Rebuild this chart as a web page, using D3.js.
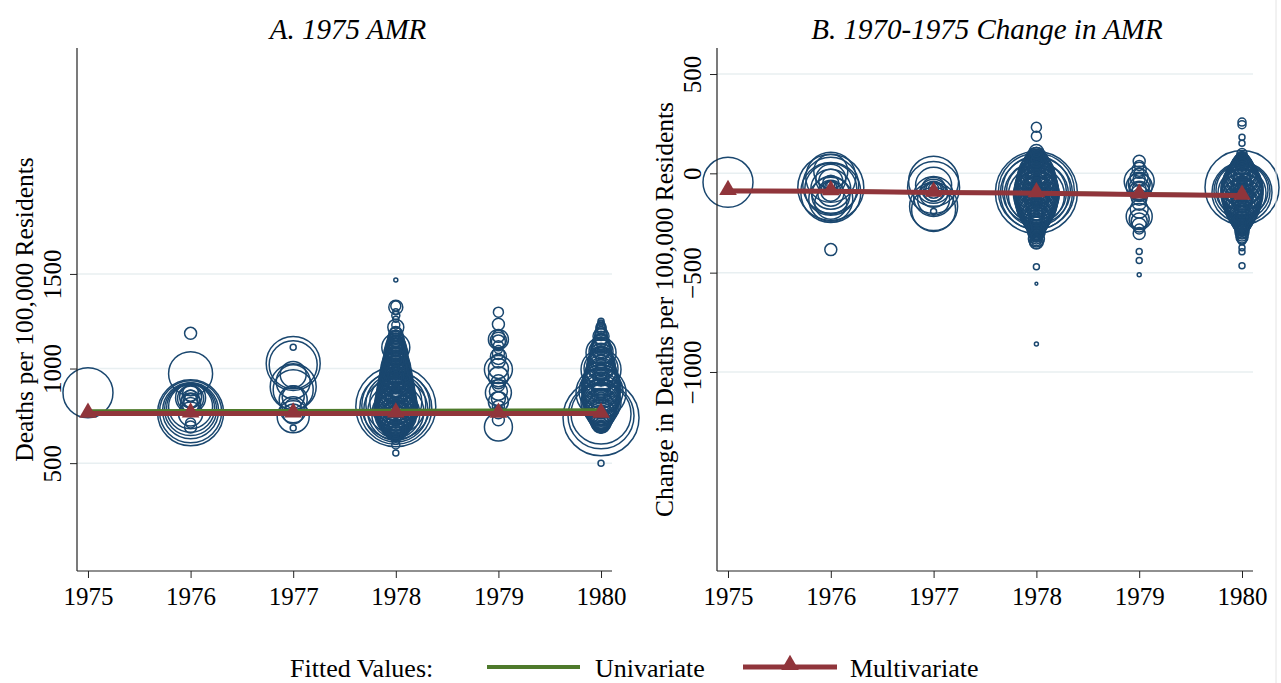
<!DOCTYPE html>
<html><head><meta charset="utf-8">
<script src="https://cdn.jsdelivr.net/npm/d3@7"></script>
<style>
body{margin:0;background:#fff;}
svg{display:block;}
text{font-family:"Liberation Serif","Times New Roman",serif;fill:#000;}
</style>
</head><body>
<svg id="chart" width="1281" height="683"></svg>
<script>
// ---------- DATA ----------
const years = [1975, 1976, 1977, 1978, 1979, 1980];
const panelTitles = ["A. 1975 AMR", "B. 1970-1975 Change in AMR"];
const yTitles = ["Deaths per 100,000 Residents", "Change in Deaths per 100,000 Residents"];
const yTicksA = [500, 1000, 1500];
const yTicksB = [-1000, -500, 0, 500];
const yDomainA = [-70, 2694];
const yDomainB = [-2002, 631];
const legendLabels = ["Fitted Values:", "Univariate", "Multivariate"];

// [value, population weight] per observation, grouped by year
const amrA1975 = [[872,625]];
const amrA1976 = [[1186,36],[973,484],[766,1089],[771,961],[777,784],[783,676],[790,576],[798,484],[846,225],[842,169],[850,121],[838,81],[830,49],[855,36],[818,100],[805,64],[691,36],[712,25],[760,144],[870,64]];
const amrA1977 = [[1027,729],[1020,576],[1112,9],[968,169],[904,529],[888,400],[930,289],[850,121],[835,196],[800,64],[782,169],[760,100],[745,256],[686,9]];
const amrA1978 = [[798,1600],[790,1296],[805,1156],[780,1024],[812,900],[770,784],[825,676],[760,576],
 [1468,4],[1324,49],[1330,25],[1300,9],[1280,16],[1260,9],[1230,16],[1218,64],[1195,25],[1180,49],[1160,64],[1150,16],[1140,81],[1130,25],[1120,100],[1112,196],[1110,36],[1100,121],[1090,25],[1080,144],[1070,49],[1060,100],[1050,36],[1040,169],[1030,64],[1020,196],[1010,49],[1010,9],[1000,225],[990,81],[990,16],[985,144],[970,256],[960,64],[955,196],[950,36],[940,289],[930,100],[925,225],[920,49],[910,324],[900,81],[900,16],[895,256],[880,361],[880,36],[870,121],[865,289],[860,25],[850,400],[840,100],[840,64],[835,324],[820,441],[820,16],[810,144],[805,361],[800,81],[790,484],[780,121],[780,36],[775,400],[760,441],[750,100],[745,361],[740,25],[730,324],[720,81],[715,256],[700,196],[690,64],[685,144],[670,100],[660,36],[640,25],[620,16],[596,16],[553,9],
 [1190,36],[1170,25],[1165,49],[1145,36],[1135,64],[1125,49],[1115,81],[1105,64],[1095,100],[1085,81],[1075,121],[1065,81],[1055,144],[1045,100],[1035,121],[1025,144],[1015,169],[1005,121],[995,196],[980,169],[975,225],[965,196],[945,225],[935,256],[915,289],[905,256],[890,324],[885,289],[875,324],[860,361],[855,324],[845,361],[830,400],[825,361],[815,400],[800,441],[795,400],[785,441],[770,361],[765,400],[755,324],[740,289],[735,256],[725,225],[710,196],[705,144],[695,121],[680,100],[675,64],[665,49],[650,36],[1060,16],[1000,9],[950,16],[900,9],[850,16],[800,9],[760,16],[720,9]];
const amrA1979 = [[1298,25],[1234,36],[1170,36],[1154,100],[1150,64],[1140,49],[1120,25],[1100,16],[1080,36],[1064,64],[1040,49],[1000,100],[995,196],[957,100],[930,49],[910,36],[880,81],[872,169],[840,49],[824,100],[800,36],[780,25],[766,36],[729,36],[691,196]];
const amrA1980 = [[740,1444],[750,1089],[760,900],[872,625],[880,484],[900,400],[995,400],[1000,289],[960,256],[940,324],[920,361],[860,289],[840,361],[820,400],[800,324],[780,256],[760,196],[740,144],[720,100],[1085,225],[1090,144],[1060,121],[1040,169],[1020,196],[1250,9],[1218,25],[1200,16],[1180,36],[1170,64],[1150,49],[1130,81],[1110,100],[1000,36],[980,49],[950,64],[910,81],[890,64],[870,100],[850,49],[830,121],[790,81],[713,64],[700,49],[690,25],[680,16],[500,9],
 [1240,9],[1230,16],[1210,25],[1190,36],[1160,49],[1140,64],[1120,81],[1100,100],[1075,121],[1050,144],[1030,169],[1010,196],[990,225],[970,256],[945,289],[925,324],[905,361],[885,324],[865,361],[845,324],[825,289],[805,256],[785,225],[770,196],[750,169],[730,121],[715,100],[705,81],[695,36],[1050,25],[950,25],[850,25],[780,16]];

const chgB1975 = [[-45,625]];
const chgB1976 = [[-71,1089],[-96,900],[-60,784],[-80,676],[-20,625],[-131,484],[-80,400],[-110,361],[-150,256],[-30,225],[-100,169],[-40,144],[10,289],[-90,100],[-50,64],[-70,36],[-60,16],[-384,36]];
const chgB1977 = [[-40,625],[-71,676],[-167,576],[-182,484],[-116,400],[-60,324],[-130,256],[-100,196],[-80,144],[-90,100],[-85,64],[-75,25],[-80,9],[-192,9]];
const chgB1978 = [[-96,1681],[-90,1444],[-100,1296],[-85,1156],[-105,1024],[-95,900],[-110,784],
 [232,25],[187,25],[110,49],[100,36],[90,64],[80,100],[70,25],[60,144],[50,49],[40,196],[30,64],[20,256],[10,81],[0,324],[-10,100],[-20,361],[-30,121],[-40,400],[-45,25],[-50,144],[-60,441],[-65,36],[-70,169],[-80,484],[-85,49],[-90,196],[-100,441],[-110,169],[-115,64],[-120,400],[-130,144],[-135,36],[-140,361],[-150,121],[-155,16],[-160,324],[-170,100],[-180,256],[-190,81],[-200,196],[-210,64],[-220,144],[-230,49],[-240,121],[-250,36],[-260,100],[-270,25],[-280,81],[-290,81],[-300,36],[-310,49],[-320,25],[-330,64],[-350,36],[-470,9],[-556,2],[-859,4],
 [95,25],[85,49],[75,64],[65,81],[55,100],[45,121],[35,144],[25,169],[15,196],[5,225],[-5,256],[-15,289],[-25,324],[-35,361],[-55,400],[-75,441],[-95,484],[-105,529],[-125,484],[-145,441],[-165,400],[-175,361],[-185,324],[-195,289],[-205,256],[-215,225],[-225,196],[-235,169],[-245,144],[-255,121],[-265,100],[-275,64],[-285,49],[-295,64],[-305,36],[-315,25],[-325,36],[-340,25],[-345,49],[-95,36],[-75,16],[-125,25],[-165,16],[-25,16],[5,9]];
const chgB1979 = [[61,36],[40,25],[20,49],[0,25],[-20,81],[-30,36],[-40,225],[-50,121],[-66,169],[-70,100],[-80,49],[-90,100],[-100,64],[-120,64],[-150,49],[-180,81],[-217,169],[-230,100],[-240,64],[-260,49],[-280,25],[-303,36],[-394,9],[-439,9],[-510,4]];
const chgB1980 = [[-71,1369],[-96,900],[-90,784],[-85,676],[-100,576],[258,16],[245,16],[182,9],[152,9],[100,25],[80,36],[60,64],[50,25],[40,100],[30,36],[20,144],[10,49],[0,196],[-10,64],[-20,256],[-30,81],[-40,324],[-50,100],[-55,25],[-60,400],[-70,121],[-75,49],[-80,441],[-90,144],[-95,64],[-100,400],[-110,121],[-115,36],[-120,361],[-130,100],[-140,324],[-150,81],[-160,256],[-170,64],[-180,196],[-190,49],[-200,144],[-210,36],[-220,100],[-230,25],[-240,81],[-250,16],[-260,64],[-280,49],[-310,36],[-330,25],[-374,9],[-395,9],[-465,9],
 [70,49],[55,81],[45,100],[35,121],[25,144],[15,169],[5,196],[-5,225],[-15,256],[-25,289],[-35,324],[-45,361],[-65,400],[-85,441],[-105,441],[-125,400],[-145,361],[-165,324],[-175,289],[-185,256],[-195,225],[-205,196],[-215,169],[-225,144],[-235,121],[-245,100],[-255,81],[-265,64],[-275,49],[-285,36],[-295,49],[-300,25],[-320,36],[-340,16],[-90,36],[-60,16],[-120,25]];

// fitted values by year
const uniA = [774, 775, 776, 777, 778, 779];
const multiA = [762, 763, 763, 763, 762, 762];
const uniB = [-88, -90, -96, -99, -105, -111];
const multiB = [-89, -90, -97, -100, -106, -112];

// ---------- DRAW ----------
const NAVY = "#1a476f", GREEN = "#4e7a2b", RED = "#90353b", GRID = "#e8eff1";
const svg = d3.select("#chart");
const rScale = d3.scaleSqrt().domain([0, 1600]).range([0, 40]);
const plotTop = 48, plotBottom = 571;

const panels = [
  {title: panelTitles[0], ytitle: yTitles[0], ticks: yTicksA, domain: yDomainA,
   groups: [amrA1975, amrA1976, amrA1977, amrA1978, amrA1979, amrA1980],
   uni: uniA, multi: multiA, left: 77, right: 612, titleX: 348, ytitleX: 33},
  {title: panelTitles[1], ytitle: yTitles[1], ticks: yTicksB, domain: yDomainB,
   groups: [chgB1975, chgB1976, chgB1977, chgB1978, chgB1979, chgB1980],
   uni: uniB, multi: multiB, left: 717, right: 1253, titleX: 987, ytitleX: 673}
];

const xPad = 0.107;
const tri = d3.symbol().type(d3.symbolTriangle).size(135);

panels.forEach(p => {
  const x = d3.scaleLinear().domain([years[0] - xPad, years[years.length-1] + xPad]).range([p.left, p.right]);
  const y = d3.scaleLinear().domain(p.domain).range([plotBottom, plotTop]);
  const g = svg.append("g");

  // gridlines
  g.selectAll("line.grid").data(p.ticks).join("line")
    .attr("x1", p.left).attr("x2", p.right)
    .attr("y1", d => y(d)).attr("y2", d => y(d))
    .attr("stroke", GRID).attr("stroke-width", 1.5);

  // bubbles
  const pts = [];
  p.groups.forEach((arr, i) => arr.forEach(d => pts.push({year: years[i], v: d[0], w: d[1]})));
  pts.sort((a, b) => b.w - a.w);
  g.selectAll("circle.b").data(pts).join("circle")
    .attr("cx", d => x(d.year)).attr("cy", d => y(d.v))
    .attr("r", d => Math.max(1.3, rScale(d.w)))
    .attr("fill", "none").attr("stroke", NAVY).attr("stroke-width", 1.5);

  // fitted lines
  const line = d3.line().x((d, i) => x(years[i])).y(d => y(d));
  g.append("path").datum(p.uni).attr("d", line).attr("fill", "none")
    .attr("stroke", GREEN).attr("stroke-width", 4);
  g.append("path").datum(p.multi).attr("d", line).attr("fill", "none")
    .attr("stroke", RED).attr("stroke-width", 5);
  g.selectAll("path.tri").data(p.multi).join("path")
    .attr("d", tri).attr("fill", RED)
    .attr("transform", (d, i) => `translate(${x(years[i])},${y(d) - 1})`);

  // y axis
  const ya = g.append("g").attr("transform", `translate(${p.left},0)`)
    .call(d3.axisLeft(y).tickValues(p.ticks).tickSize(7).tickSizeOuter(0).tickFormat(d3.format("d")));
  ya.select(".domain").remove();
  ya.selectAll(".tick line").attr("stroke", "#222").attr("stroke-width", 1);
  ya.selectAll(".tick text")
    .attr("transform", "rotate(-90)").attr("x", 0).attr("y", -16).attr("dy", 0)
    .attr("text-anchor", "middle").style("font-size", "25px")
    .style("font-family", '"Liberation Serif","Times New Roman",serif').attr("fill", "#000");
  g.append("line").attr("x1", p.left).attr("x2", p.left).attr("y1", plotTop).attr("y2", plotBottom)
    .attr("stroke", "#222").attr("stroke-width", 1.2);

  // x axis
  const xa = g.append("g").attr("transform", `translate(0,${plotBottom})`)
    .call(d3.axisBottom(x).tickValues(years).tickSize(7).tickSizeOuter(0).tickFormat(d3.format("d")));
  xa.select(".domain").remove();
  xa.selectAll(".tick line").attr("stroke", "#222").attr("stroke-width", 1);
  xa.selectAll(".tick text").attr("y", 34).attr("dy", 0).style("font-size", "25px")
    .style("font-family", '"Liberation Serif","Times New Roman",serif').attr("fill", "#000");
  g.append("line").attr("x1", p.left).attr("x2", p.right).attr("y1", plotBottom).attr("y2", plotBottom)
    .attr("stroke", "#222").attr("stroke-width", 1.2);

  // titles
  g.append("text").attr("x", p.titleX).attr("y", 39).attr("text-anchor", "middle")
    .style("font-size", "29px").style("font-style", "italic").text(p.title);
  g.append("text").attr("transform", `translate(${p.ytitleX},${(plotTop + plotBottom) / 2}) rotate(-90)`)
    .attr("text-anchor", "middle").style("font-size", "25.5px").text(p.ytitle);
});

// right edge frame line
svg.append("line").attr("x1", 1276).attr("x2", 1276).attr("y1", 0).attr("y2", 683)
  .attr("stroke", "#e4e4e4").attr("stroke-width", 1);

// legend
const lg = svg.append("g");
lg.append("text").attr("x", 290).attr("y", 677).style("font-size", "26px").text(legendLabels[0]);
lg.append("line").attr("x1", 487).attr("x2", 580).attr("y1", 667).attr("y2", 667)
  .attr("stroke", GREEN).attr("stroke-width", 4);
lg.append("text").attr("x", 595).attr("y", 677).style("font-size", "26px").text(legendLabels[1]);
lg.append("line").attr("x1", 743).attr("x2", 837).attr("y1", 667).attr("y2", 667)
  .attr("stroke", RED).attr("stroke-width", 5);
lg.append("path").attr("d", tri).attr("fill", RED).attr("transform", "translate(790,665)");
lg.append("text").attr("x", 850).attr("y", 677).style("font-size", "26px").text(legendLabels[2]);
</script>
</body></html>
